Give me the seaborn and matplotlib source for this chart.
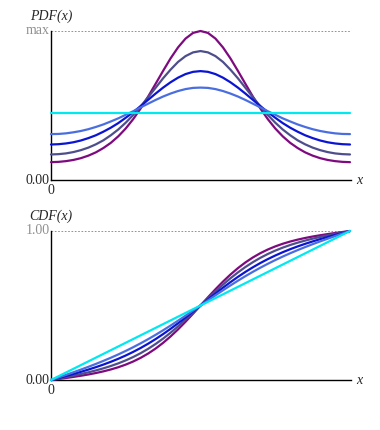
import matplotlib
matplotlib.use("Agg")
import matplotlib.pyplot as plt
import seaborn as sns
import pandas as pd

# x positions (fraction of the domain)
x_vals = [0.000, 0.025, 0.050, 0.075, 0.100, 0.125, 0.150, 0.175, 0.200, 0.225,
          0.250, 0.275, 0.300, 0.325, 0.350, 0.375, 0.400, 0.425, 0.450, 0.475,
          0.500, 0.525, 0.550, 0.575, 0.600, 0.625, 0.650, 0.675, 0.700, 0.725,
          0.750, 0.775, 0.800, 0.825, 0.850, 0.875, 0.900, 0.925, 0.950, 0.975,
          1.000]

curve_names = ["uniform", "c1", "c2", "c3", "c4"]
curve_colors = ["#00e8f0", "#4a6ee0", "#0a14d2", "#4e4e8c", "#7e0a80"]

# PDF (relative to max)
pdf_uniform = [0.452, 0.452, 0.452, 0.452, 0.452, 0.452, 0.452, 0.452, 0.452, 0.452,
               0.452, 0.452, 0.452, 0.452, 0.452, 0.452, 0.452, 0.452, 0.452, 0.452,
               0.452, 0.452, 0.452, 0.452, 0.452, 0.452, 0.452, 0.452, 0.452, 0.452,
               0.452, 0.452, 0.452, 0.452, 0.452, 0.452, 0.452, 0.452, 0.452, 0.452,
               0.452]
pdf_c1 = [0.309, 0.310, 0.314, 0.321, 0.330, 0.342, 0.357, 0.374, 0.394, 0.415,
          0.439, 0.463, 0.489, 0.514, 0.539, 0.562, 0.582, 0.599, 0.612, 0.620,
          0.622, 0.620, 0.612, 0.599, 0.582, 0.562, 0.539, 0.514, 0.489, 0.463,
          0.439, 0.415, 0.394, 0.374, 0.357, 0.342, 0.330, 0.321, 0.314, 0.310,
          0.309]
pdf_c2 = [0.239, 0.241, 0.246, 0.254, 0.266, 0.282, 0.301, 0.325, 0.352, 0.383,
          0.419, 0.457, 0.498, 0.540, 0.582, 0.622, 0.658, 0.689, 0.713, 0.728,
          0.733, 0.728, 0.713, 0.689, 0.658, 0.622, 0.582, 0.540, 0.498, 0.457,
          0.419, 0.383, 0.352, 0.325, 0.301, 0.282, 0.266, 0.254, 0.246, 0.241,
          0.239]
pdf_c3 = [0.172, 0.174, 0.179, 0.188, 0.201, 0.218, 0.240, 0.267, 0.301, 0.340,
          0.386, 0.438, 0.496, 0.558, 0.621, 0.685, 0.743, 0.795, 0.834, 0.859,
          0.868, 0.859, 0.834, 0.795, 0.743, 0.685, 0.621, 0.558, 0.496, 0.438,
          0.386, 0.340, 0.301, 0.267, 0.240, 0.218, 0.201, 0.188, 0.179, 0.174,
          0.172]
pdf_c4 = [0.120, 0.122, 0.127, 0.135, 0.147, 0.164, 0.186, 0.215, 0.250, 0.294,
          0.347, 0.410, 0.482, 0.562, 0.648, 0.735, 0.819, 0.893, 0.952, 0.990,
          1.003, 0.990, 0.952, 0.893, 0.819, 0.735, 0.648, 0.562, 0.482, 0.410,
          0.347, 0.294, 0.250, 0.215, 0.186, 0.164, 0.147, 0.135, 0.127, 0.122,
          0.120]

# CDF
cdf_uniform = x_vals
cdf_c1 = [0, 0.0171, 0.0344, 0.0519, 0.0699, 0.0885, 0.1079, 0.1281, 0.1493, 0.1716,
          0.1952, 0.2202, 0.2465, 0.2742, 0.3033, 0.3338, 0.3654, 0.3981, 0.4316, 0.4656,
          0.5, 0.5344, 0.5684, 0.6019, 0.6346, 0.6662, 0.6967, 0.7258, 0.7535, 0.7798,
          0.8048, 0.8284, 0.8507, 0.8719, 0.8921, 0.9115, 0.9301, 0.9481, 0.9656, 0.9829,
          1]
cdf_c2 = [0, 0.0133, 0.0267, 0.0405, 0.0549, 0.0700, 0.0861, 0.1034, 0.1221, 0.1424,
          0.1646, 0.1888, 0.2151, 0.2438, 0.2748, 0.3081, 0.3436, 0.3809, 0.4197, 0.4596,
          0.5, 0.5404, 0.5803, 0.6191, 0.6564, 0.6919, 0.7252, 0.7562, 0.7849, 0.8112,
          0.8354, 0.8576, 0.8779, 0.8966, 0.9139, 0.9300, 0.9451, 0.9595, 0.9733, 0.9867,
          1]
cdf_c3 = [0, 0.0095, 0.0193, 0.0294, 0.0401, 0.0516, 0.0643, 0.0782, 0.0939, 0.1116,
          0.1317, 0.1544, 0.1802, 0.2094, 0.2420, 0.2781, 0.3176, 0.3602, 0.4053, 0.4522,
          0.5, 0.5478, 0.5947, 0.6398, 0.6824, 0.7219, 0.7580, 0.7906, 0.8198, 0.8456,
          0.8683, 0.8884, 0.9061, 0.9218, 0.9357, 0.9484, 0.9599, 0.9706, 0.9807, 0.9905,
          1]
cdf_c4 = [0, 0.0067, 0.0135, 0.0208, 0.0286, 0.0371, 0.0468, 0.0579, 0.0707, 0.0857,
          0.1034, 0.1243, 0.1489, 0.1778, 0.2112, 0.2495, 0.2925, 0.3399, 0.3910, 0.4448,
          0.5, 0.5552, 0.6090, 0.6601, 0.7075, 0.7505, 0.7888, 0.8222, 0.8511, 0.8757,
          0.8966, 0.9143, 0.9293, 0.9421, 0.9532, 0.9629, 0.9714, 0.9792, 0.9865, 0.9933,
          1]

pdfs = [pdf_uniform, pdf_c1, pdf_c2, pdf_c3, pdf_c4]
cdfs = [cdf_uniform, cdf_c1, cdf_c2, cdf_c3, cdf_c4]

rows = []
for name, p, c in zip(curve_names, pdfs, cdfs):
    for xv, pv, cv in zip(x_vals, p, c):
        rows.append({"x": xv, "pdf": pv, "cdf": cv, "curve": name})
df = pd.DataFrame(rows)

sns.set_style("white")
plt.rcParams['font.family'] = ['Liberation Serif', 'DejaVu Serif']

fig = plt.figure(figsize=(3.8, 4.3), dpi=100)
ax1 = fig.add_axes([51 / 380, 1 - 180 / 430, 299 / 380, 149 / 430])
ax2 = fig.add_axes([51 / 380, 1 - 380 / 430, 299 / 380, 149 / 430])

palette = dict(zip(curve_names, curve_colors))
order = ["c4", "c3", "c2", "c1", "uniform"]


def draw(ax, col, top, top_label, ylab):
    for name in order:
        sub = df[df["curve"] == name]
        sns.lineplot(data=sub, x="x", y=col, color=palette[name], lw=1.6,
                     ax=ax, legend=False, clip_on=False, zorder=3)
    ax.set_xlim(0, 1)
    ax.set_ylim(0, top)
    for s in ["top", "right"]:
        ax.spines[s].set_visible(False)
    ax.spines["left"].set_color("black")
    ax.spines["bottom"].set_color("black")
    ax.spines["left"].set_linewidth(1.0)
    ax.spines["bottom"].set_linewidth(1.0)
    ax.spines["bottom"].set_bounds(0, 1.005)
    ax.axhline(top, color="#808080", ls=(0, (2, 2)), lw=0.6, zorder=1)
    ax.set_xticks([])
    ax.set_yticks([])
    ax.set_xlabel("")
    ax.set_ylabel("")
    ax.text(-0.005, 0, "0.00", ha="right", va="center", fontsize=10,
            transform=ax.transAxes)
    ax.text(-0.005, 1, top_label, ha="right", va="center", fontsize=10,
            color="#909090", transform=ax.transAxes)
    ax.text(0, -0.03, "0", ha="center", va="top", fontsize=10,
            transform=ax.transAxes)
    ax.text(1.02, 0, "x", ha="left", va="center", fontsize=10,
            style="italic", transform=ax.transAxes)
    ax.text(0.0, 1.055, ylab, ha="center", va="bottom", fontsize=10,
            style="italic", transform=ax.transAxes)


draw(ax1, "pdf", 1.003, "max", "PDF(x)")
draw(ax2, "cdf", 1.0, "1.00", "CDF(x)")

fig.savefig("out.png", dpi=100)
